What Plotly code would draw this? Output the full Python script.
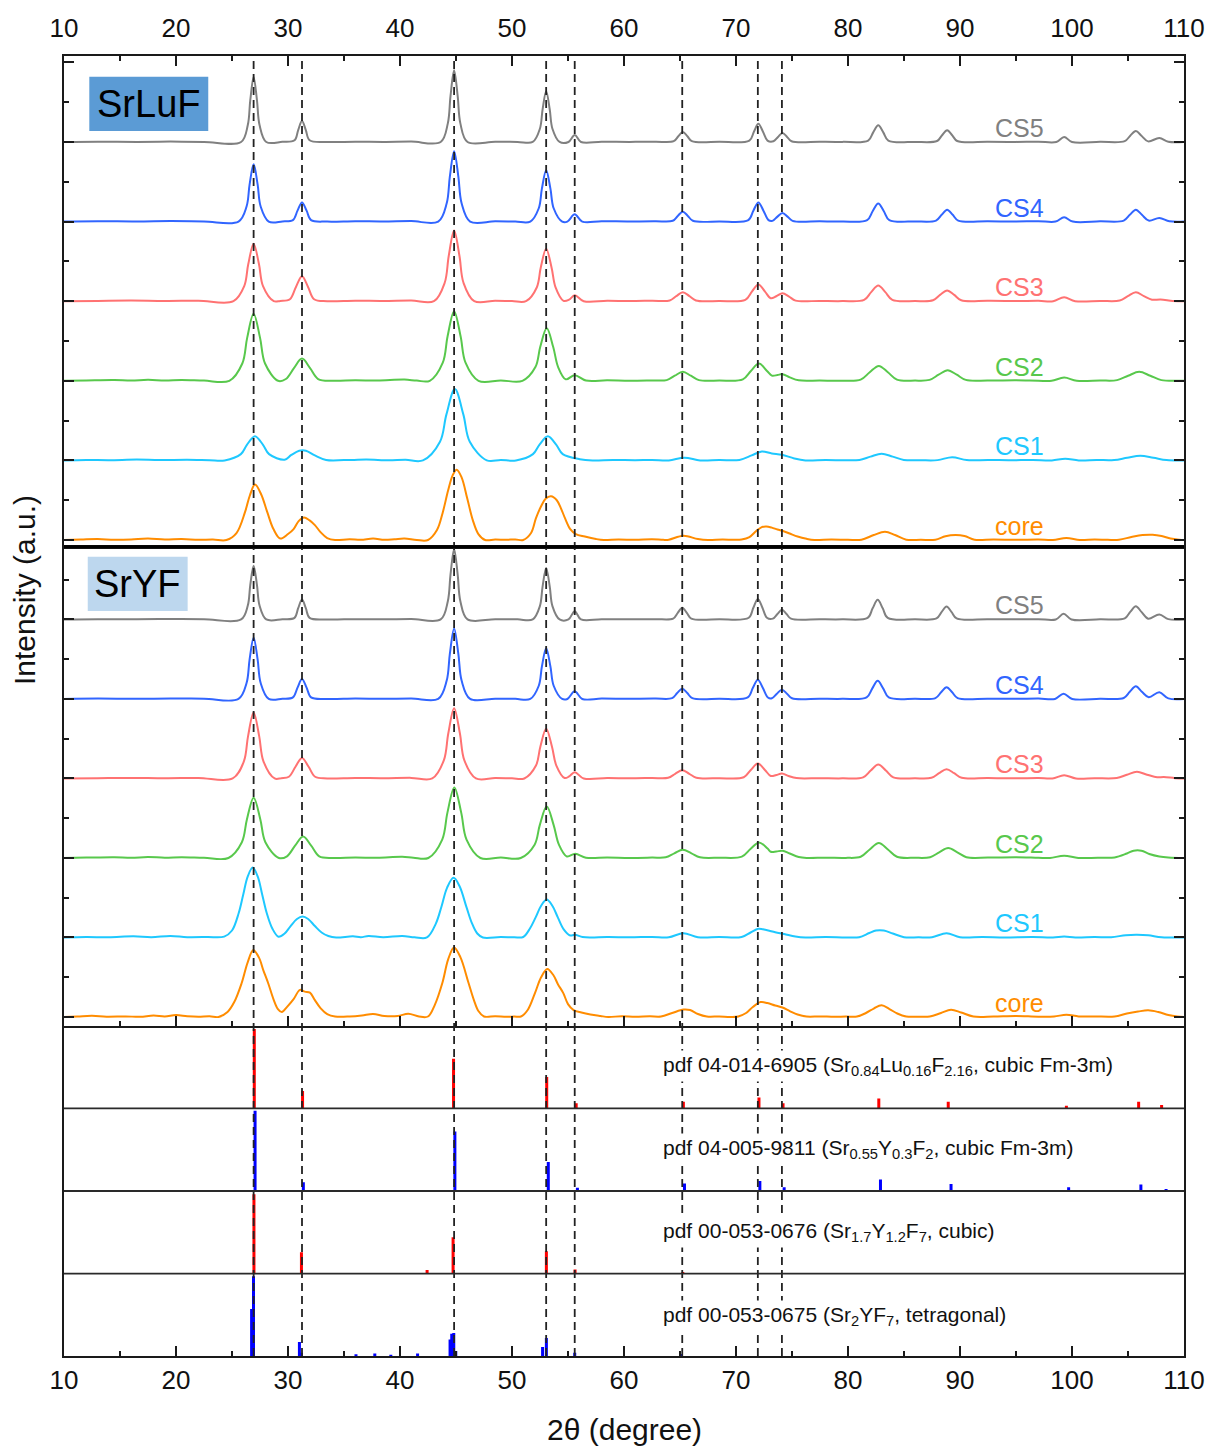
import plotly.graph_objects as go

# ---------------------------------------------------------------------------
# Data
# ---------------------------------------------------------------------------
# Guide lines (2theta, degree) marking the main reflections
guide_angles = [26.93, 31.25, 44.83, 53.05, 55.6, 65.2, 71.95, 74.1]

sample_names = ["core", "CS1", "CS2", "CS3", "CS4", "CS5"]
sample_colors = ["#FF8C00", "#1EC8FF", "#58C84C", "#FF7272", "#3165FF", "#808080"]

# Measured patterns, (2theta, intensity above the pattern's own baseline)
srluf_core = [
    (10, 0), (11.5, 0.5), (13.0, 1.0), (14.5, 0.3), (16.0, 0.6), (17.5, 1.5), (19.0, 0.5), (20.5, 1.0),
    (22.0, 0.3), (23.3, 0.5),
    (24.5, 0), (25.4, 7), (26.16, 28), (26.6, 45), (27.05, 55.7), (27.6, 46), (28.15, 28), (28.7, 11), (29.3, 1.5),
    (30.0, 6), (30.5, 11), (30.95, 19), (31.43, 22.7), (31.9, 20), (32.4, 15), (32.9, 8), (33.5, 2), (34.2, 0),
    (35.5, 0.8), (36.5, 0.3), (37.6, 1.5), (38.6, 0.3), (39.5, 0.8), (40.4, 1.5), (41.5, 0),
    (42.5, 0), (43.3, 10), (43.8, 27), (44.3, 50), (44.7, 65), (45.06, 70.7), (45.5, 63), (46.0, 42), (46.5, 20),
    (47.0, 6), (47.6, 0),
    (48.5, 0.5), (49.5, 0.2), (50.3, 0.6),
    (51.0, 0), (51.7, 7), (52.14, 22), (52.6, 34), (53.0, 41.5), (53.48, 44), (54.0, 40), (54.4, 31), (54.73, 22),
    (55.2, 11), (55.7, 6), (56.5, 3.5), (57.5, 1), (58.2, 0),
    (59.5, 0.6), (61.0, 0.2), (62.5, 0.8), (63.5, 0.2),
    (64.0, 0.3), (65.3, 4.3), (66.6, 1), (67.5, 0),
    (68.8, 0.5), (69.8, 0.2),
    (70.5, 0.5), (71.2, 3), (71.8, 9), (72.3, 13), (72.7, 13.7), (73.2, 12.5), (73.7, 10.5), (74.2, 9), (74.8, 6.5),
    (75.5, 3.5), (76.3, 1.2), (77.0, 0),
    (78.5, 0.5), (80.0, 0.2),
    (81.2, 0.3), (82.3, 5), (83.3, 8.3), (84.2, 5), (85.2, 0.3),
    (86.5, 0.2),
    (87.8, 0.3), (88.7, 3.8), (89.6, 5), (90.4, 4), (91.3, 0.3),
    (93.0, 0.6), (95.0, 0.2), (97.0, 0.5),
    (98.3, 0), (99.5, 2), (100.7, 0),
    (102.0, 0.5), (103.2, 0.2),
    (104.2, 0.3), (105.3, 3), (106.3, 5), (107.2, 5.3), (108.0, 4), (108.8, 1.5), (109.6, 0.3), (110, 0),
]

srluf_cs1 = [
    (10, 0), (12.0, 0.5), (14.0, 0.2), (16.5, 0.8), (18.5, 0.3), (21.0, 0.6), (23.0, 0.2),
    (24.35, 0), (25.79, 6.3), (26.33, 15.6), (27.05, 24.3), (27.77, 15.6), (28.31, 6.3), (29.7, 0.7),
    (30.3, 5.5), (31.0, 9.7), (31.6, 9.7), (32.4, 5), (33.4, 0.5),
    (35.0, 0.3), (37.0, 0.8), (39.0, 0.2), (40.5, 0.6),
    (42.05, 0), (43.57, 18.7), (44.14, 46), (44.9, 71.7), (45.66, 46), (46.23, 18.7), (47.75, 0),
    (49.0, 0.4),
    (50.35, 0), (51.87, 6.3), (52.44, 15.6), (53.2, 24.3), (53.96, 15.6), (54.53, 6.3), (56.05, 1.2), (57.2, 0),
    (59.0, 0.5), (61.0, 0.2), (62.5, 0.5),
    (64.0, 0), (65.4, 2.7), (66.8, 0),
    (68.5, 0.4),
    (70.3, 0.5), (71.4, 5), (72.3, 9), (73.2, 7), (74.1, 5.7), (75.2, 2), (76.2, 0),
    (78.0, 0.4), (79.8, 0.1),
    (81.02, 0.5), (82.01, 3.8), (83.0, 6.7), (83.99, 3.8), (84.98, 0.5),
    (86.5, 0.2),
    (88.0, 0.3), (89.3, 3.3), (90.6, 0.3),
    (92.5, 0.5), (94.5, 0.2), (96.5, 0.5),
    (98.2, 0), (99.4, 1.7), (100.6, 0),
    (102.2, 0.4),
    (103.76, 0.4), (104.93, 2.7), (106.1, 4.7), (107.27, 2.7), (108.44, 0.4), (110, 0),
]

srluf_cs2 = [
    (10, 0), (12.0, 0.4), (14.5, 0.8), (16.0, 0.2), (17.5, 1.0), (19.0, 0.3), (20.5, 0.8), (22.5, 0.2),
    (24.76, 0), (25.92, 17.4), (26.35, 42.9), (26.93, 67.3), (27.51, 42.9), (27.95, 17.4), (29.11, 0),
    (29.81, 1.8), (30.53, 12.7), (31.25, 22.3), (31.97, 12.7), (32.69, 1.8),
    (34.0, 0), (36.0, 0.5), (38.0, 0.2), (40.4, 1.2), (41.5, 0.2),
    (42.66, 0), (43.82, 18.2), (44.25, 44.8), (44.83, 70), (45.41, 44.8), (45.85, 18.2), (47.01, 0),
    (49.0, 0.4),
    (50.93, 0), (52.09, 13.8), (52.52, 33.9), (53.1, 52.7), (53.68, 33.9), (54.12, 13.8), (54.8, 1.5),
    (55.6, 5.7), (56.6, 0.3),
    (58.5, 0.5), (60.5, 0.1), (62.5, 0.4),
    (63.81, 0.7), (64.53, 5.1), (65.25, 9), (65.97, 5.1), (66.69, 0.7),
    (68.5, 0.3),
    (70.61, 1.4), (71.33, 9.9), (72.05, 17.3), (72.77, 9.9), (73.2, 5.2), (73.7, 5.8), (74.15, 6.7), (74.8, 3.5),
    (75.6, 0.5),
    (77.5, 0.3), (79.5, 0.1),
    (81.13, 1.2), (81.94, 8.6), (82.75, 15), (83.56, 8.6), (84.37, 1.2),
    (86.0, 0.2),
    (87.28, 0.9), (88.09, 6.1), (88.9, 10.7), (89.71, 6.1), (90.52, 0.9),
    (92.5, 0.3), (95.0, 0.5), (97.0, 0.1),
    (98.18, 0), (99.3, 3.3), (100.42, 0),
    (102.5, 0.3),
    (104.02, 0.7), (105.01, 5.1), (106.0, 9), (106.99, 5.1), (107.98, 0.7), (109.5, 0), (110, 0),
]

srluf_cs3 = [
    (10, 0), (13.0, 0.3), (16.0, 0.6), (19.0, 0.2), (22.0, 0.5),
    (25.13, 0), (26.09, 15.1), (26.45, 37.1), (26.93, 57.7), (27.41, 37.1), (27.77, 15.1), (28.73, 0),
    (29.3, 0.3),
    (30.17, 2), (30.71, 14.3), (31.25, 25), (31.79, 14.3), (32.33, 2),
    (33.5, 0), (36.0, 0.5), (38.5, 0.2), (41.0, 0.6),
    (43.03, 0), (43.99, 18.5), (44.35, 45.4), (44.83, 71), (45.31, 45.4), (45.67, 18.5), (46.63, 0),
    (48.5, 0.4), (50.0, 0.1),
    (51.25, 0), (52.21, 13.8), (52.57, 33.9), (53.05, 52.7), (53.53, 33.9), (53.89, 13.8), (54.6, 0.3),
    (55.1, 1.5), (55.6, 6), (56.4, 0),
    (58.5, 0.4), (60.5, 0.2), (62.5, 0.5),
    (64.08, 0.7), (64.67, 5.1), (65.25, 9), (65.84, 5.1), (66.42, 0.7),
    (68.5, 0.3),
    (70.83, 1.4), (71.42, 9.7), (72.0, 16.7), (72.59, 9.7), (73.1, 3),
    (73.6, 5), (74.15, 8), (74.74, 4.6), (75.32, 0.6),
    (77.5, 0.3), (79.5, 0.1),
    (81.44, 1.3), (82.07, 9.1), (82.7, 15.7), (83.33, 9.1), (83.96, 1.3),
    (86.0, 0.2),
    (87.59, 0.9), (88.22, 6.3), (88.85, 10.7), (89.48, 6.3), (90.11, 0.9),
    (92.5, 0.4), (95.0, 0.1), (97.0, 0.4),
    (98.32, 0), (99.3, 4), (100.28, 0),
    (102.5, 0.3),
    (104.26, 0.7), (104.98, 5.1), (105.7, 9), (106.42, 5.1), (107.14, 1.5), (107.9, 1.8), (109.0, 0.3), (110, 0),
]

srluf_cs4 = [
    (10, 0), (13.0, 0.4), (16.5, 0.1), (19.5, 0.5), (22.5, 0.2),
    (25.58, 0), (26.3, 15.1), (26.57, 37.1), (26.93, 57.7), (27.29, 37.1), (27.56, 15.1), (28.28, 0),
    (29.5, 0.2),
    (30.44, 1.5), (30.85, 11), (31.25, 19.3), (31.66, 11), (32.06, 1.5),
    (33.5, 0), (36.0, 0.4), (38.5, 0.1), (41.0, 0.5),
    (43.41, 0), (44.17, 18.4), (44.45, 45.2), (44.83, 70.7), (45.21, 45.2), (45.5, 18.4), (46.26, 0),
    (48.5, 0.3), (50.3, 0.1),
    (51.63, 0), (52.39, 13.4), (52.67, 33.1), (53.05, 51.7), (53.43, 33.1), (53.72, 13.4), (54.48, 0),
    (54.94, 0), (55.6, 7.3), (56.27, 0),
    (58.0, 0.4), (60.5, 0.1), (62.8, 0.4),
    (64.35, 0.8), (64.8, 5.7), (65.25, 10), (65.7, 5.7), (66.15, 0.8),
    (68.5, 0.2),
    (71.1, 1.5), (71.55, 11), (72.0, 19.3), (72.45, 11), (72.9, 1.5),
    (73.25, 0.7), (73.7, 5), (74.15, 8.7), (74.6, 5), (75.05, 0.7),
    (77.5, 0.3), (79.5, 0.1),
    (81.71, 1.5), (82.2, 10.4), (82.7, 18.3), (83.2, 10.4), (83.69, 1.5),
    (86.0, 0.2),
    (87.86, 1), (88.36, 6.8), (88.85, 12), (89.35, 6.8), (89.84, 1),
    (92.5, 0.3), (95.0, 0.1), (97.0, 0.4),
    (98.53, 0), (99.3, 4.3), (100.07, 0),
    (102.5, 0.3),
    (104.62, 1), (105.16, 6.8), (105.7, 12), (106.24, 6.8), (106.85, 1), (107.8, 3.7), (108.7, 0.3), (110, 0),
]

srluf_cs5 = [
    (10, 0), (13.0, 0.3), (16.5, 0.1), (19.5, 0.4), (22.5, 0.1),
    (25.81, 0), (26.41, 17), (26.63, 41.8), (26.93, 65.3), (27.23, 41.8), (27.46, 17), (28.06, 0),
    (29.5, 0.2),
    (30.58, 1.7), (30.91, 12), (31.25, 21), (31.59, 12), (31.93, 1.7),
    (33.5, 0), (36.0, 0.3), (38.5, 0.1), (41.0, 0.4),
    (43.63, 0), (44.27, 18.7), (44.51, 46.1), (44.83, 72), (45.15, 46.1), (45.39, 18.7), (46.03, 0),
    (48.5, 0.3), (50.5, 0.1),
    (51.85, 0), (52.49, 13.3), (52.73, 32.6), (53.05, 51), (53.37, 32.6), (53.61, 13.3), (54.25, 0),
    (55.04, 0), (55.6, 7), (56.16, 0),
    (58.0, 0.3), (60.5, 0.1), (62.8, 0.3),
    (64.44, 0.8), (64.85, 5.7), (65.25, 10), (65.66, 5.7), (66.06, 0.8),
    (68.5, 0.2),
    (71.19, 1.4), (71.6, 10.3), (72.0, 18.3), (72.41, 10.3), (72.81, 1.4),
    (73.34, 0.7), (73.75, 5.1), (74.15, 9), (74.56, 5.1), (74.96, 0.7),
    (77.5, 0.2), (79.5, 0.1),
    (81.8, 1.4), (82.25, 9.7), (82.7, 16.7), (83.15, 9.7), (83.6, 1.4),
    (86.0, 0.1),
    (87.95, 1), (88.4, 6.8), (88.85, 11.7), (89.3, 6.8), (89.75, 1),
    (92.5, 0.2), (95.0, 0.1), (97.0, 0.3),
    (98.6, 0), (99.3, 5), (100.0, 0),
    (102.5, 0.2),
    (104.71, 0.9), (105.2, 6.3), (105.7, 11), (106.2, 6.3), (106.8, 0.6), (107.8, 4), (108.6, 0.2), (110, 0),
]

sryf_core = [
    (10, 0), (11.2, 0.5), (12.5, 1.2), (13.8, 0.3), (15.5, 0.6), (16.8, 0.2), (18.0, 1.5), (19.0, 0.5),
    (20.0, 2.0), (21.0, 0.8), (22.0, 0.3), (23.0, 0.8),
    (23.8, 0), (24.6, 5), (25.2, 15), (25.85, 33.7), (26.4, 55), (26.9, 67.3), (27.4, 60), (27.8, 47),
    (28.24, 33.7), (28.7, 18), (29.1, 8), (29.45, 5),
    (29.9, 10), (30.5, 18), (31.07, 27.3), (31.5, 25.5), (31.96, 24.5), (32.4, 17), (32.9, 9), (33.5, 3), (34.2, 0.5),
    (35.5, 0.5), (36.6, 1.5), (37.6, 3), (38.6, 1), (39.8, 1), (40.74, 3.3), (41.7, 0.5),
    (42.5, 0.5), (43.1, 12), (43.8, 35), (44.3, 58), (44.82, 70), (45.4, 60), (46.1, 35), (46.6, 17), (47.0, 6),
    (47.5, 0.5),
    (48.5, 0.8), (49.5, 0.2), (50.2, 0.5),
    (50.8, 0.5), (51.4, 7), (52.05, 24), (52.6, 40), (53.15, 48.3), (53.7, 42), (54.1, 33), (54.58, 24), (55.0, 13),
    (55.5, 7), (56.2, 4.5), (57.0, 2.5), (57.9, 1), (58.6, 0),
    (59.8, 0.8), (61.0, 0.2), (62.3, 0.7),
    (63.3, 0.5), (64.3, 4), (65.3, 7.5), (65.9, 7), (66.6, 3), (67.4, 0.5),
    (68.5, 0.5), (69.5, 0),
    (70.2, 0.5), (70.9, 4), (71.5, 10), (72.2, 15), (72.8, 14), (73.5, 11.5), (74.15, 9.5), (74.8, 6), (75.5, 2.5),
    (76.3, 0.5),
    (77.5, 0.6), (78.8, 0.2), (79.8, 0.5),
    (80.8, 0.5), (81.6, 4), (82.3, 8.5), (83.0, 11.7), (83.7, 8), (84.4, 3.5), (85.2, 0.5),
    (86.3, 0.3),
    (87.3, 0.5), (88.3, 4), (89.2, 7.3), (90.1, 4.5), (91.2, 0.5),
    (93.0, 0.5), (95.0, 1), (97.0, 0.3),
    (98.4, 0.5), (99.5, 2.3), (100.6, 0.5),
    (102.0, 0.6),
    (103.8, 0.5), (104.9, 3.5), (105.9, 5.5), (106.8, 6.7), (107.7, 5), (108.6, 2), (109.4, 0.5), (110, 0),
]

sryf_cs1 = [
    (10, 0), (12.0, 0.5), (14.0, 0.2), (16.2, 1.2), (17.8, 0.3), (19.5, 1.5), (21.0, 0.3), (22.8, 0.5),
    (24.3, 0.9), (25.0, 7), (25.6, 24.6), (26.0, 43), (26.4, 61.3), (26.85, 70.3), (27.3, 61.3), (27.7, 43),
    (28.1, 24.6), (28.6, 9), (29.15, 0.8),
    (29.7, 4), (30.2, 11), (30.8, 18.6), (31.3, 21), (31.8, 18.6), (32.4, 11.5), (33.0, 5), (33.6, 1.5), (34.3, 0),
    (35.8, 1.2), (36.5, 0.3), (37.2, 1.5), (38.5, 0.3), (40.2, 1.5), (41.3, 0.2),
    (42.4, 0), (43.2, 14), (43.7, 31), (44.2, 50), (44.78, 60), (45.3, 52), (45.95, 30), (46.4, 15), (46.9, 4),
    (47.4, 0),
    (49.0, 0.5), (50.2, 0.2),
    (51.0, 0.5), (51.6, 9), (52.1, 20), (52.6, 32), (53.1, 38.3), (53.6, 32), (54.1, 20), (54.6, 8.5), (55.2, 2),
    (55.6, 2.7), (56.3, 0.5), (57.0, 0),
    (58.5, 0.5), (60.5, 0.2), (62.5, 0.6),
    (64.0, 0.3), (65.3, 4.3), (66.6, 0.3),
    (68.5, 0.5),
    (70.5, 0.5), (71.3, 5), (72.0, 8.7), (72.7, 7.5), (73.5, 5.3), (74.3, 3.5), (75.3, 1), (76.2, 0),
    (78.0, 0.5), (79.8, 0.1),
    (81.0, 0.3), (81.9, 4.5), (82.5, 7), (83.2, 7), (84.0, 4), (85.0, 0.3),
    (86.3, 0.2),
    (87.5, 0.3), (88.8, 4.3), (90.0, 0.3),
    (92.0, 0.5), (94.0, 0.1), (96.5, 0.5),
    (98.3, 0), (99.3, 1), (100.3, 0),
    (102.0, 0.4),
    (103.5, 0.3), (104.8, 2.3), (105.8, 2.7), (106.8, 2.2), (108.0, 0.3), (110, 0),
]

sryf_cs2 = [
    (10, 0), (12.0, 0.4), (14.5, 0.8), (16.0, 0.2), (17.5, 1.0), (19.0, 0.3), (20.5, 0.8), (22.5, 0.2),
    (24.68, 0), (25.88, 15.8), (26.33, 38.8), (26.93, 60.7), (27.53, 38.8), (27.98, 15.8), (29.18, 0),
    (29.91, 1.7), (30.63, 12.4), (31.35, 21.7), (32.07, 12.4), (32.79, 1.7),
    (34.0, 0), (36.0, 0.5), (38.0, 0.2), (40.2, 1.2), (41.2, 0.2),
    (42.53, 0), (43.77, 18.5), (44.23, 45.4), (44.85, 71), (45.47, 45.4), (45.94, 18.5), (47.18, 0),
    (49.0, 0.4),
    (50.78, 0), (52.02, 13.4), (52.48, 33.1), (53.1, 51.7), (53.72, 33.1), (54.19, 13.4), (54.9, 1.5),
    (55.65, 4.3), (56.6, 0.3),
    (58.5, 0.5), (60.5, 0.1), (62.5, 0.4),
    (63.72, 0.7), (64.49, 4.7), (65.25, 8.3), (66.02, 4.7), (66.78, 0.7),
    (68.5, 0.3),
    (70.52, 1.3), (71.29, 9), (72.05, 15.7), (72.82, 9.5), (73.1, 6.3), (73.6, 6.5), (74.15, 7.3), (74.8, 4.5),
    (75.6, 1), (76.3, 0),
    (78.0, 0.3), (79.8, 0.1),
    (81.13, 1.2), (81.94, 8.6), (82.75, 15), (83.56, 8.6), (84.37, 1.2),
    (86.0, 0.2),
    (87.33, 0.8), (88.14, 5.7), (88.95, 10), (89.76, 5.7), (90.57, 0.8),
    (92.5, 0.4), (95.0, 0.8), (97.0, 0.2),
    (98.04, 0), (99.3, 2.3), (100.56, 0),
    (102.3, 0.3),
    (103.8, 0.5), (104.9, 4.5), (105.5, 7.3), (106.2, 7.3), (106.9, 4), (107.8, 1.5), (108.6, 0.5), (110, 0),
]

sryf_cs3 = [
    (10, 0), (13.0, 0.3), (16.0, 0.6), (19.0, 0.2), (22.0, 0.5),
    (25.06, 0), (26.06, 17.2), (26.43, 42.4), (26.93, 66.3), (27.43, 42.4), (27.81, 17.2), (28.81, 0),
    (29.4, 0.3),
    (30.08, 1.7), (30.67, 11.8), (31.25, 20.7), (31.84, 11.8), (32.42, 1.7),
    (33.5, 0), (36.0, 0.5), (38.5, 0.2), (41.0, 0.6),
    (42.88, 0), (43.92, 18.4), (44.31, 45.2), (44.83, 70.7), (45.35, 45.2), (45.74, 18.4), (46.78, 0),
    (48.5, 0.4), (50.0, 0.1),
    (51.1, 0), (52.14, 13), (52.53, 32), (53.05, 50), (53.57, 32), (53.96, 13), (54.7, 0.5),
    (55.1, 2), (55.6, 6.3), (56.4, 0),
    (58.5, 0.4), (60.5, 0.2), (62.5, 0.5),
    (63.94, 0.7), (64.57, 4.7), (65.2, 8.3), (65.83, 4.7), (66.46, 0.7),
    (68.5, 0.3),
    (70.69, 1.2), (71.32, 8.6), (71.95, 15), (72.58, 8.6), (73.1, 2.5),
    (73.6, 3.5), (74.1, 5), (74.7, 2.5), (75.4, 0.4),
    (77.5, 0.3), (79.5, 0.1),
    (81.35, 1.1), (82.03, 8), (82.7, 14), (83.38, 8), (84.05, 1.1),
    (86.0, 0.2),
    (87.45, 0.7), (88.13, 5.3), (88.8, 9.3), (89.48, 5.3), (90.15, 0.7),
    (92.5, 0.4), (95.0, 0.1), (97.0, 0.4),
    (98.25, 0), (99.3, 3.3), (100.35, 0),
    (102.0, 0.3),
    (104.0, 0.5), (104.9, 3.8), (105.8, 6.7), (106.7, 3.8), (107.6, 1.2), (108.2, 1.5), (109.2, 0.3), (110, 0),
]

sryf_cs4 = [
    (10, 0), (13.0, 0.4), (16.5, 0.1), (19.5, 0.5), (22.5, 0.2),
    (25.58, 0), (26.3, 16), (26.57, 39.5), (26.93, 61.7), (27.29, 39.5), (27.56, 16), (28.28, 0),
    (29.5, 0.2),
    (30.44, 1.6), (30.85, 11.4), (31.25, 20), (31.66, 11.4), (32.06, 1.6),
    (33.5, 0), (36.0, 0.4), (38.5, 0.1), (41.0, 0.5),
    (43.41, 0), (44.17, 18.5), (44.45, 45.4), (44.83, 71), (45.21, 45.4), (45.5, 18.5), (46.26, 0),
    (48.5, 0.3), (50.3, 0.1),
    (51.63, 0), (52.39, 13.3), (52.67, 32.6), (53.05, 51), (53.43, 32.6), (53.72, 13.3), (54.48, 0),
    (54.94, 0), (55.6, 7.7), (56.27, 0),
    (58.0, 0.4), (60.5, 0.1), (62.8, 0.4),
    (64.3, 0.8), (64.75, 5.9), (65.2, 10.3), (65.65, 5.9), (66.1, 0.8),
    (68.5, 0.2),
    (71.05, 1.5), (71.5, 11), (71.95, 19.3), (72.4, 11), (72.85, 1.5),
    (73.2, 0.7), (73.65, 5.3), (74.1, 9.3), (74.55, 5.3), (75.0, 0.7),
    (77.5, 0.3), (79.5, 0.1),
    (81.66, 1.5), (82.16, 10.4), (82.65, 18.3), (83.15, 10.4), (83.64, 1.5),
    (86.0, 0.2),
    (87.81, 0.9), (88.31, 6.7), (88.8, 11.7), (89.3, 6.7), (89.79, 0.9),
    (92.5, 0.3), (95.0, 0.1), (97.0, 0.4),
    (98.48, 0), (99.25, 5.3), (100.02, 0),
    (102.5, 0.3),
    (104.62, 1), (105.16, 7.2), (105.7, 12.7), (106.24, 7.2), (106.85, 1.8), (107.8, 6.7), (108.6, 0.6), (110, 0),
]

sryf_cs5 = [
    (10, 0), (13.0, 0.3), (16.5, 0.1), (19.5, 0.4), (22.5, 0.1),
    (25.81, 0), (26.41, 14), (26.63, 34.6), (26.93, 54), (27.23, 34.6), (27.46, 14), (28.06, 0),
    (29.5, 0.2),
    (30.58, 1.6), (30.91, 11.4), (31.25, 20), (31.59, 11.4), (31.93, 1.6),
    (33.5, 0), (36.0, 0.3), (38.5, 0.1), (41.0, 0.4),
    (43.63, 0), (44.27, 18.4), (44.51, 45.2), (44.83, 70.7), (45.15, 45.2), (45.39, 18.4), (46.03, 0),
    (48.5, 0.3), (50.5, 0.1),
    (51.85, 0), (52.49, 13.4), (52.73, 33.1), (53.05, 51.7), (53.37, 33.1), (53.61, 13.4), (54.25, 0),
    (55.04, 0), (55.6, 8.3), (56.16, 0),
    (58.0, 0.3), (60.5, 0.1), (62.8, 0.3),
    (64.39, 0.9), (64.8, 6.7), (65.2, 11.7), (65.61, 6.7), (66.01, 0.9),
    (68.5, 0.2),
    (71.14, 1.7), (71.55, 11.8), (71.95, 20.7), (72.36, 11.8), (72.76, 1.7),
    (73.29, 0.8), (73.7, 5.5), (74.1, 9.7), (74.51, 5.5), (74.91, 0.8),
    (77.5, 0.2), (79.5, 0.1),
    (81.75, 1.6), (82.2, 11.2), (82.65, 19.7), (83.1, 11.2), (83.55, 1.6),
    (86.0, 0.1),
    (87.9, 1), (88.35, 7.4), (88.8, 13), (89.25, 7.4), (89.7, 1),
    (92.5, 0.2), (95.0, 0.1), (97.0, 0.3),
    (98.55, 0), (99.25, 5.7), (99.95, 0),
    (102.5, 0.2),
    (104.71, 1.1), (105.2, 7.6), (105.7, 13.3), (106.2, 7.6), (106.8, 0.8), (107.8, 5), (108.6, 0.3), (110, 0),
]

srluf_patterns = [srluf_core, srluf_cs1, srluf_cs2, srluf_cs3, srluf_cs4, srluf_cs5]
sryf_patterns = [sryf_core, sryf_cs1, sryf_cs2, sryf_cs3, sryf_cs4, sryf_cs5]

# Reference cards: (2theta, relative intensity %)
card_6905 = [(26.99, 96), (31.3, 21), (44.78, 60), (53.1, 38), (55.73, 6), (65.3, 8), (72.05, 13), (74.2, 6),
             (82.75, 12), (88.95, 8), (99.5, 3), (105.95, 8), (108.0, 4)]
card_9811 = [(27.06, 97), (31.37, 10.5), (44.9, 72), (53.24, 35), (55.84, 4), (65.4, 9), (72.13, 12), (74.3, 4.5),
             (82.9, 14), (89.2, 8.5), (99.7, 4.5), (106.15, 8), (108.4, 2.5)]
card_0676 = [(26.96, 96), (31.2, 26), (42.42, 4.5), (44.74, 44), (53.07, 27), (55.63, 5), (65.25, 2)]
card_0675 = [(26.75, 57), (26.92, 97), (31.02, 17), (31.2, 4), (36.07, 2), (37.75, 3), (39.18, 1.5), (41.57, 3),
             (44.47, 20), (44.62, 27), (44.8, 28), (44.98, 6), (52.73, 11), (53.07, 22), (55.6, 4), (65.1, 2.5)]

card_labels = [
    "pdf 04-014-6905 (Sr<sub>0.84</sub>Lu<sub>0.16</sub>F<sub>2.16</sub>, cubic Fm-3m)",
    "pdf 04-005-9811 (Sr<sub>0.55</sub>Y<sub>0.3</sub>F<sub>2</sub>, cubic Fm-3m)",
    "pdf 00-053-0676 (Sr<sub>1.7</sub>Y<sub>1.2</sub>F<sub>7</sub>, cubic)",
    "pdf 00-053-0675 (Sr<sub>2</sub>YF<sub>7</sub>, tetragonal)",
]
card_colors = ["#FF0000", "#0000FF", "#FF0000", "#0000FF"]
cards = [card_6905, card_9811, card_0676, card_0675]

# ---------------------------------------------------------------------------
# Layout constants
# ---------------------------------------------------------------------------
STEP = 80                     # vertical offset between stacked patterns
FONT = "Liberation Sans, Arial, Helvetica, sans-serif"
AX = "#1a1a1a"

# panel domains (paper fractions, bottom -> top)
dom_top = [0.62254, 1.0]
dom_mid = [0.25408, 0.62254]
dom_cards = [[0.19054, 0.25408], [0.12692, 0.19054], [0.06331, 0.12692], [0.0, 0.06331]]

fig = go.Figure()


def add_pattern(points, k, color, xa, ya):
    xs = [p[0] for p in points]
    ys = [p[1] + k * STEP for p in points]
    fig.add_trace(go.Scatter(
        x=xs, y=ys, mode="lines", xaxis=xa, yaxis=ya,
        line=dict(color=color, width=2, shape="spline", smoothing=1),
        hoverinfo="skip", showlegend=False))


for k, pts in enumerate(srluf_patterns):
    add_pattern(pts, k, sample_colors[k], "x", "y")
for k, pts in enumerate(sryf_patterns):
    add_pattern(pts, k, sample_colors[k], "x2", "y2")

# reference sticks
for i, card in enumerate(cards):
    sx, sy = [], []
    for pos, inten in card:
        sx += [pos, pos, None]
        sy += [0, inten, None]
    fig.add_trace(go.Scatter(
        x=sx, y=sy, mode="lines", xaxis=f"x{i + 3}", yaxis=f"y{i + 3}",
        line=dict(color=card_colors[i], width=3),
        hoverinfo="skip", showlegend=False))

# ---------------------------------------------------------------------------
# Axes
# ---------------------------------------------------------------------------
x_base = dict(range=[10, 110], showline=True, linecolor=AX, linewidth=2, mirror=True,
              showgrid=False, zeroline=False, tickmode="linear", tick0=10, dtick=10, automargin=False,
              ticklabeloverflow="allow",
              tickfont=dict(family=FONT, size=26, color="#111"), tickcolor=AX, tickwidth=1.8)
x_ticks = dict(ticks="inside", ticklen=10,
               minor=dict(ticks="inside", ticklen=5, dtick=5, tick0=10, tickcolor=AX, tickwidth=1.8))
x_card = dict(x_base, showline=False, ticks="", showticklabels=False)

y_main = dict(showline=True, linecolor=AX, linewidth=2, mirror="ticks", showgrid=False, zeroline=False,
              showticklabels=False, tickmode="linear", tick0=0, dtick=STEP, ticks="inside", ticklen=10,
              tickcolor=AX, tickwidth=1.8, automargin=False,
              minor=dict(ticks="inside", ticklen=5, dtick=STEP / 2, tick0=0, tickcolor=AX, tickwidth=1.8))
y_card = dict(showline=True, linecolor=AX, linewidth=2, mirror=True, showgrid=False, zeroline=False,
              showticklabels=False, ticks="", range=[0, 100], automargin=False)

layout_axes = dict(
    xaxis=dict(**x_base, **x_ticks, side="top", anchor="y", showticklabels=True, ticklabelstandoff=7),
    xaxis2=dict(**x_base, **x_ticks, anchor="y2", showticklabels=False),
    xaxis3=dict(**x_card, anchor="y3"),
    xaxis4=dict(**x_card, anchor="y4"),
    xaxis5=dict(**x_card, anchor="y5"),
    xaxis6=dict(x_base, **x_ticks, mirror=False, anchor="y6", showticklabels=True),
    yaxis=dict(**y_main, domain=dom_top, range=[-6.7, 486.4], anchor="x"),
    yaxis2=dict(**y_main, domain=dom_mid, range=[-8.75, 473.2], anchor="x2"),
)
for i in range(4):
    layout_axes[f"yaxis{i + 3}"] = dict(**y_card, domain=dom_cards[i], anchor=f"x{i + 3}")

# ---------------------------------------------------------------------------
# Shapes: guide lines, panel separators, material tags
# ---------------------------------------------------------------------------
shapes = []
for g in guide_angles:
    shapes.append(dict(type="line", xref="x", yref="paper", x0=g, x1=g, y0=0, y1=1,
                       line=dict(color="#222", width=1.8, dash="8px,5px"), layer="above"))
shapes.append(dict(type="line", xref="paper", yref="paper", x0=0, x1=1, y0=dom_top[0], y1=dom_top[0],
                   line=dict(color="#000", width=3), layer="above"))
for d in dom_cards[:3]:
    shapes.append(dict(type="line", xref="paper", yref="paper", x0=0, x1=1, y0=d[0], y1=d[0],
                       line=dict(color="#2a2a2a", width=1.8), layer="above"))
shapes.append(dict(type="rect", xref="x", yref="y", x0=12.26, x1=22.88, y0=411.1, y1=465.6,
                   fillcolor="#5B9BD5", line=dict(width=0), layer="above"))
shapes.append(dict(type="rect", xref="x2", yref="y2", x0=12.12, x1=21.04, y0=408.5, y1=463.1,
                   fillcolor="#BDD7EE", line=dict(width=0), layer="above"))

# ---------------------------------------------------------------------------
# Annotations
# ---------------------------------------------------------------------------
ann = []
ann.append(dict(text="SrLuF", x=17.57, y=438.3, xref="x", yref="y", showarrow=False,
                font=dict(family=FONT, size=38, color="#000"), xanchor="center", yanchor="middle"))
ann.append(dict(text="SrYF", x=16.58, y=435.8, xref="x2", yref="y2", showarrow=False,
                font=dict(family=FONT, size=38, color="#000"), xanchor="center", yanchor="middle"))

for k, name in enumerate(sample_names):
    for xr, yr in (("x", "y"), ("x2", "y2")):
        ann.append(dict(text=name, x=92.95, y=k * STEP - 2, xref=xr, yref=yr, showarrow=False,
                        xanchor="left", yanchor="bottom",
                        font=dict(family=FONT, size=25, color=sample_colors[k])))

card_label_y = [51.5, 50.5, 50, 49]
for i, lab in enumerate(card_labels):
    ann.append(dict(text=lab, x=63.25, y=card_label_y[i], xref=f"x{i + 3}", yref=f"y{i + 3}",
                    showarrow=False, xanchor="left", yanchor="middle", bgcolor="#FFFFFF", borderpad=2,
                    font=dict(family=FONT, size=21, color="#111")))

ann.append(dict(text="Intensity (a.u.)", x=-0.0357, y=0.5892, xref="paper", yref="paper",
                showarrow=False, textangle=-90, xanchor="center", yanchor="middle",
                font=dict(family=FONT, size=30, color="#111")))
ann.append(dict(text="2\u03b8 (degree)", x=0.5, y=-0.0569, xref="paper", yref="paper",
                showarrow=False, xanchor="center", yanchor="middle",
                font=dict(family=FONT, size=30, color="#111")))

fig.update_layout(
    width=1209, height=1446, autosize=False,
    margin=dict(l=64, r=25, t=56, b=90),
    paper_bgcolor="#FFFFFF", plot_bgcolor="#FFFFFF",
    showlegend=False, hovermode=False,
    shapes=shapes, annotations=ann,
    **layout_axes,
)

fig.write_html("out.html", config={"displayModeBar": False})
